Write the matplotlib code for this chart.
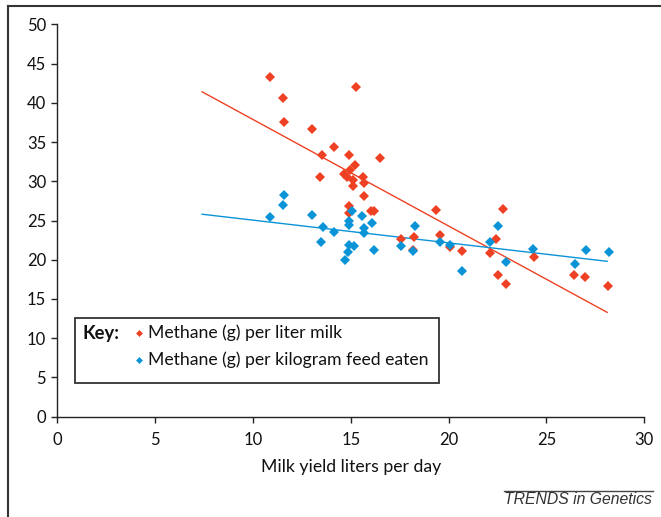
import matplotlib
matplotlib.use("Agg")
import matplotlib.pyplot as plt
from matplotlib.lines import Line2D
from matplotlib.patches import Rectangle

# methane per liter milk (red)
milk_x = [10.87, 11.55, 11.59, 15.28, 13.0, 14.16, 13.54, 14.89, 16.51, 15.22,
          14.96, 13.43, 14.65, 14.79, 15.09, 15.09, 15.64, 15.67, 15.67, 14.89,
          14.93, 16.03, 16.2, 17.57, 18.25, 18.16, 19.34, 19.54, 20.09, 20.69,
          22.79, 22.43, 22.09, 22.52, 22.95, 24.34, 26.42, 26.99, 28.16]
milk_y = [43.3, 40.6, 37.6, 42.0, 36.7, 34.4, 33.4, 33.4, 33.0, 32.05,
          31.4, 30.55, 30.9, 30.5, 30.1, 29.4, 30.5, 29.8, 28.1, 26.9,
          25.9, 26.2, 26.2, 22.6, 22.9, 21.3, 26.3, 23.2, 21.6, 21.1,
          26.5, 22.65, 20.86, 18.1, 16.96, 20.35, 18.0, 17.8, 16.6]

# methane per kg feed eaten (blue)
feed_x = [11.59, 11.55, 10.87, 13.0, 15.08, 15.59, 13.56, 14.93, 14.93, 16.06,
          14.16, 15.66, 15.66, 13.46, 14.93, 15.15, 14.87, 16.19, 17.57, 14.69,
          18.28, 18.18, 19.56, 20.09, 20.66, 22.13, 22.5, 22.93, 24.33, 26.44,
          27.0, 28.18]
feed_y = [28.2, 27.0, 25.5, 25.7, 26.2, 25.55, 24.2, 25.0, 24.4, 24.65,
          23.5, 24.0, 23.4, 22.2, 21.9, 21.7, 21.0, 21.2, 21.75, 19.96,
          24.3, 21.06, 22.2, 21.9, 18.55, 22.2, 24.3, 19.7, 21.4, 19.45,
          21.3, 21.0]

# trend line end points
trend_x = [7.4, 28.1]
milk_trend = [41.4, 13.3]
feed_trend = [25.8, 19.8]

red = "#EE4123"
blue = "#0A93D6"

W, H = 661, 517
fig = plt.figure(figsize=(W / 100, H / 100), dpi=100)
ax = fig.add_axes([57.3 / W, 1 - 416.7 / H, 587 / W, 392.4 / H])

def px(x):
    return x / W

def py(y):
    return 1 - y / H

ax.plot(trend_x, milk_trend, color=red, lw=1.0, zorder=2)
ax.plot(trend_x, feed_trend, color=blue, lw=1.0, zorder=2)
ax.plot(milk_x, milk_y, "D", color=red, ms=4.6, mew=0, zorder=3)
ax.plot(feed_x, feed_y, "D", color=blue, ms=4.6, mew=0, zorder=3)

ax.set_xlim(0, 30)
ax.set_ylim(0, 50)
ax.set_xticks(range(0, 31, 5))
ax.set_yticks(range(0, 51, 5))
for s in ["top", "right"]:
    ax.spines[s].set_visible(False)
for s in ["left", "bottom"]:
    ax.spines[s].set_color("#222222")
    ax.spines[s].set_linewidth(1.0)
ax.tick_params(direction="out", length=4, width=1.0, color="#222222",
               labelsize=12, labelcolor="#111111")
ax.tick_params(axis="x", pad=7)
ax.tick_params(axis="y", pad=4)
for lab in ax.get_xticklabels() + ax.get_yticklabels():
    lab.set_fontfamily("Lato")
ax.set_xlabel("Milk yield liters per day", fontsize=12.7, family="Lato",
              color="#111111", labelpad=8)

# key box
fig.add_artist(Rectangle((px(75), py(383)), px(439) - px(75), py(317.5) - py(383),
                         transform=fig.transFigure, fill=False,
                         edgecolor="#333333", lw=1.3))
fig.text(px(82), py(333), "Key:", fontsize=13.2, fontweight="bold",
         family="Lato", va="center", ha="left", color="#111111")
fig.add_artist(Line2D([px(139)], [py(333)], marker="D", ms=3.5, mew=0,
                      color=red, transform=fig.transFigure))
fig.add_artist(Line2D([px(139)], [py(360)], marker="D", ms=3.5, mew=0,
                      color=blue, transform=fig.transFigure))
fig.text(px(148), py(333), "Methane (g) per liter milk", fontsize=12.7,
         family="Lato", va="center", ha="left", color="#111111")
fig.text(px(148), py(360), "Methane (g) per kilogram feed eaten", fontsize=12.7,
         family="Lato", va="center", ha="left", color="#111111")

# outer frame
fig.add_artist(Line2D([px(8), 1], [py(5.5), py(5.5)], color="#333333", lw=1.5,
                      transform=fig.transFigure))
fig.add_artist(Line2D([px(8), px(8)], [0, py(5.5)], color="#333333", lw=1.5,
                      transform=fig.transFigure))

# journal footer
fig.add_artist(Line2D([px(504), px(653)], [py(490.5), py(490.5)], color="#444444",
                      lw=1.0, transform=fig.transFigure))
fig.text(px(652), py(500), "TRENDS in Genetics", fontsize=11.3, style="italic",
         family="Liberation Sans", ha="right", va="center", color="#333333")

fig.savefig("out.png", dpi=100)
